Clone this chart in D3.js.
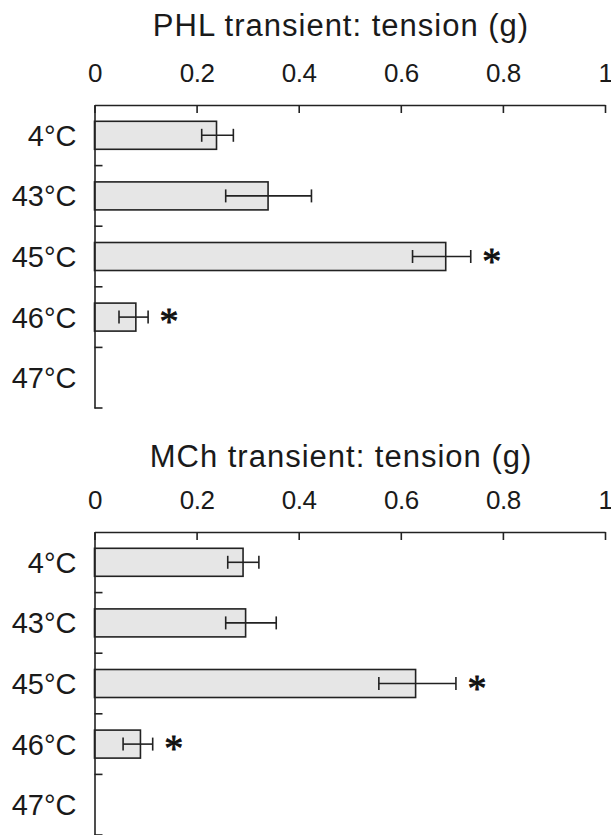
<!DOCTYPE html>
<html>
<head>
<meta charset="utf-8">
<script src="https://cdn.jsdelivr.net/npm/d3@7"></script>
<style>
  body { margin: 0; background: #fff; }
  svg { display: block; font-family: "Liberation Sans", Arial, sans-serif; }
</style>
</head>
<body>
<div id="chart"></div>
<script>
// temperatures, same for both panels
const categories = ['4°C', '43°C', '45°C', '46°C', '47°C'];
const tickValues = [0, 0.2, 0.4, 0.6, 0.8, 1];

// PHL transient tension (g): mean and error bar ends
const phlMean = [0.239, 0.340, 0.688, 0.081, 0];
const phlLow = [0.210, 0.257, 0.623, 0.048, null];
const phlHigh = [0.272, 0.425, 0.737, 0.105, null];
const phlSig = [false, false, true, true, false];

// MCh transient tension (g)
const mchMean = [0.291, 0.296, 0.629, 0.090, 0];
const mchLow = [0.261, 0.257, 0.557, 0.056, null];
const mchHigh = [0.322, 0.356, 0.708, 0.114, null];
const mchSig = [false, false, true, true, false];

const W = 611, H = 835;
const ink = '#222';

const svg = d3.select('#chart').append('svg')
  .attr('width', W)
  .attr('height', H);

function drawPanel(title, mean, low, high, sig, top, titleY) {
  const rows = categories.map((c, i) => ({
    cat: c, mean: mean[i], low: low[i], high: high[i], sig: sig[i]
  }));

  const x = d3.scaleLinear().domain([0, 1]).range([94.5, 605]);
  const y = d3.scaleBand().domain(categories).range([top, top + 303]);
  const barH = 28;

  const g = svg.append('g');

  // title
  g.append('text')
    .attr('x', 341)
    .attr('y', titleY)
    .attr('text-anchor', 'middle')
    .style('font-size', '31px')
    .style('letter-spacing', '1px')
    .style('fill', '#1a1a1a')
    .text(title);

  // bars
  g.selectAll('rect.bar')
    .data(rows.filter(d => d.mean > 0))
    .enter()
    .append('rect')
    .attr('class', 'bar')
    .attr('x', x(0))
    .attr('y', d => y(d.cat) + (y.bandwidth() - barH) / 2)
    .attr('width', d => x(d.mean) - x(0))
    .attr('height', barH)
    .style('fill', '#e6e6e6')
    .style('stroke', ink)
    .style('stroke-width', 1.6);

  // error bars
  const eb = g.selectAll('g.err')
    .data(rows.filter(d => d.low != null))
    .enter()
    .append('g')
    .attr('class', 'err')
    .attr('transform', d => `translate(0,${y(d.cat) + y.bandwidth() / 2})`)
    .style('stroke', ink)
    .style('stroke-width', 1.6);

  eb.append('line')
    .attr('x1', d => x(d.low))
    .attr('x2', d => x(d.high));
  eb.append('line')
    .attr('x1', d => x(d.low)).attr('x2', d => x(d.low))
    .attr('y1', -6.5).attr('y2', 6.5);
  eb.append('line')
    .attr('x1', d => x(d.high)).attr('x2', d => x(d.high))
    .attr('y1', -6.5).attr('y2', 6.5);

  // significance marks
  g.selectAll('text.sig')
    .data(rows.filter(d => d.sig))
    .enter()
    .append('text')
    .attr('class', 'sig')
    .attr('x', d => x(d.high) + 21)
    .attr('y', d => y(d.cat) + y.bandwidth() / 2 + 17)
    .attr('text-anchor', 'middle')
    .style('font-family', '"Liberation Serif", "Times New Roman", serif')
    .style('font-size', '38px')
    .style('fill', '#111')
    .style('stroke', '#111')
    .style('stroke-width', 0.8)
    .text('*');

  // x axis along the top
  const xAxis = g.append('g')
    .attr('transform', `translate(0,${top})`)
    .call(d3.axisTop(x)
      .tickValues(tickValues)
      .tickFormat(d3.format('~g'))
      .tickSizeInner(-8)
      .tickSizeOuter(0)
      .tickPadding(23));
  xAxis.select('.domain').style('stroke', ink).style('stroke-width', 1.6);
  xAxis.selectAll('.tick line').style('stroke', ink).style('stroke-width', 1.6);
  xAxis.selectAll('.tick text')
    .style('font-size', '26px')
    .style('letter-spacing', '-0.5px')
    .style('font-family', '"Liberation Sans", Arial, sans-serif')
    .style('fill', '#1a1a1a');

  // y axis with labels centred on each band
  const yAxis = g.append('g')
    .attr('transform', `translate(${x(0)},0)`)
    .call(d3.axisLeft(y).tickSize(0).tickSizeOuter(0).tickPadding(18));
  yAxis.select('.domain').style('stroke', ink).style('stroke-width', 1.6);
  yAxis.selectAll('.tick text')
    .attr('dy', '0.36em')
    .style('font-size', '29px')
    .style('font-family', '"Liberation Sans", Arial, sans-serif')
    .style('fill', '#1a1a1a');

  // short ticks on band boundaries, pointing into the plot
  g.selectAll('line.sep')
    .data(categories)
    .enter()
    .append('line')
    .attr('class', 'sep')
    .attr('x1', x(0))
    .attr('x2', x(0) + 8)
    .attr('y1', d => y(d) + y.bandwidth())
    .attr('y2', d => y(d) + y.bandwidth())
    .style('stroke', ink)
    .style('stroke-width', 1.6);
}

drawPanel('PHL transient: tension (g)', phlMean, phlLow, phlHigh, phlSig, 105, 36);
drawPanel('MCh transient: tension (g)', mchMean, mchLow, mchHigh, mchSig, 532, 467);
</script>
</body>
</html>
